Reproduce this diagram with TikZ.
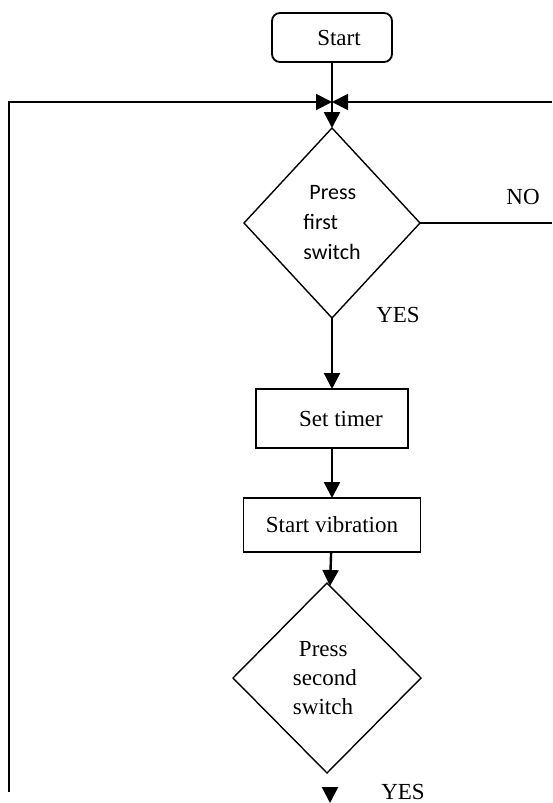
\documentclass[tikz,border=0pt]{standalone}
\usepackage{fontspec}
\setmainfont{Liberation Serif}
\newfontfamily\calfont{Carlito}
\usetikzlibrary{positioning,arrows.meta,shapes.geometric}

\begin{document}
\begin{tikzpicture}[>={Triangle[length=8pt,width=8pt]}, x=0.5pt, y=-0.5pt,
  every node/.style={font=\fontsize{11.5}{14.5}\selectfont, outer sep=0pt},
  procbox/.style={draw,line width=0.9pt},
  decbox/.style={draw,diamond,aspect=1,inner sep=0pt,line width=0.7pt,align=left,minimum height=95pt},
  arr/.style={->,line width=1.2pt}]
\useasboundingbox (0,0) rectangle (552,803);
\node[procbox,rounded corners=4pt,minimum width=60pt,minimum height=24.5pt] (start) at (332,37.5) {\hspace*{7pt}Start};
\node[decbox,minimum width=88pt,below=33pt of start,font=\calfont\fontsize{11}{15}\selectfont] (sw1) {\hspace*{3pt}Press\\first\\switch};
\node[procbox,minimum width=76pt,minimum height=29.5pt,below=35.5pt of sw1] (timer) {\hspace*{9pt}Set timer};
\node[procbox,minimum width=88.5pt,minimum height=27pt,below=25pt of timer] (vib) {Start vibration};
\node[decbox,minimum width=94pt,below=15.5pt of vib,xshift=-2.5pt] (sw2) {\hspace*{3pt}Press\\second\\switch\hspace*{4pt}};
% loop back lines
\coordinate (hl) at (9,102);
\coordinate (hr) at (552,102);
\coordinate (join) at (start.south |- hl);
\coordinate (lbot) at (9,792);
\coordinate (noend) at (sw1.east -| hr);
\coordinate (yesa) at (330,791);
\coordinate (yesb) at (330,803);
\draw[arr] (start) -- (sw1);
\draw[->,line width=1pt] (lbot) -- (hl) -- (join);
\draw[->,line width=1pt] (hr) -- (join);
\draw[line width=1pt] (sw1.east) -- (noend);
\draw[arr] (sw1) -- (timer);
\draw[arr] (timer) -- (vib);
\draw[arr] (vib) -- (sw2);
\draw[arr] (yesa) -- (yesb);
\node (no) at (523,197) {NO};
\node (yes1) at (398,315) {YES};
\node (yes2) at (403,792) {YES};
\end{tikzpicture}
\end{document}
